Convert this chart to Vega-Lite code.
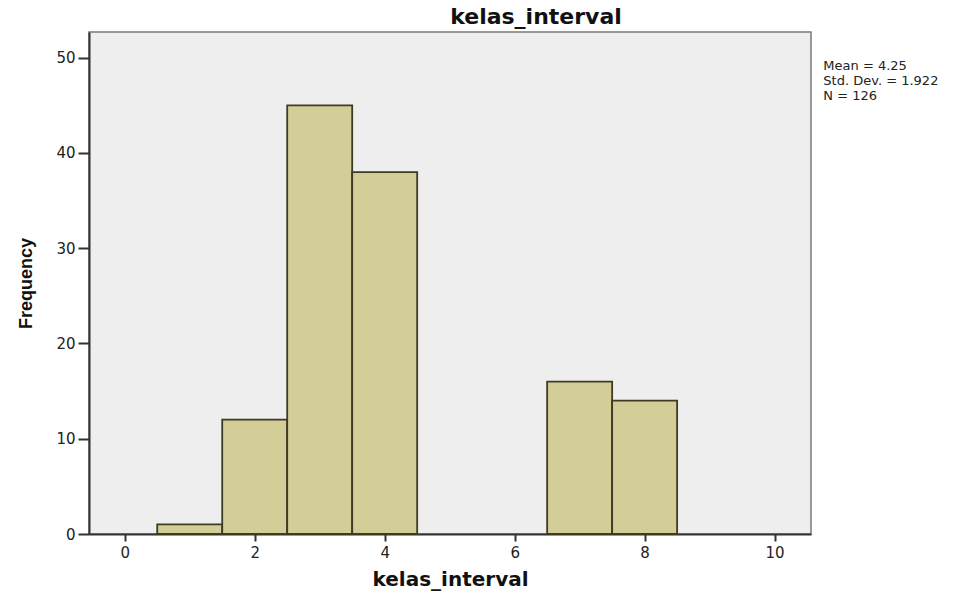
{
  "$schema": "https://vega.github.io/schema/vega-lite/v6.json",
  "width": 722,
  "height": 502,
  "autosize": {"type": "none"},
  "padding": {"left": 89, "top": 32, "right": 163, "bottom": 58},
  "background": "#ffffff",
  "title": {
    "text": "kelas_interval",
    "anchor": "middle",
    "frame": "group",
    "dx": 86,
    "offset": -14,
    "baseline": "alphabetic",
    "font": "DejaVu Sans",
    "fontSize": 22,
    "fontWeight": "bold",
    "color": "#111111"
  },
  "config": {
    "view": {"fill": "#EEEEEE", "stroke": "#7a7a7a", "strokeWidth": 1.5},
    "axis": {
      "grid": false,
      "domainColor": "#333333",
      "domainWidth": 2,
      "tickColor": "#333333",
      "tickWidth": 2,
      "labelColor": "#222222",
      "labelFont": "DejaVu Sans",
      "labelFontSize": 15,
      "titleColor": "#111111"
    }
  },
  "layer": [
    {
      "data": {
        "values": [
          {"bin_start": 0.5, "bin_end": 1.5, "frequency": 1},
          {"bin_start": 1.5, "bin_end": 2.5, "frequency": 12},
          {"bin_start": 2.5, "bin_end": 3.5, "frequency": 45},
          {"bin_start": 3.5, "bin_end": 4.5, "frequency": 38},
          {"bin_start": 6.5, "bin_end": 7.5, "frequency": 16},
          {"bin_start": 7.5, "bin_end": 8.5, "frequency": 14}
        ]
      },
      "mark": {"type": "rect", "fill": "#D3CD97", "stroke": "#3d3b22", "strokeWidth": 1.8},
      "encoding": {
        "x": {
          "field": "bin_start",
          "type": "quantitative",
          "scale": {"domain": [-0.55, 10.56], "nice": false, "zero": false},
          "axis": {
            "values": [0, 2, 4, 6, 8, 10],
            "format": "d",
            "title": "kelas_interval",
            "titleFont": "DejaVu Sans",
            "titleFontSize": 20,
            "titleFontWeight": "bold",
            "titleBaseline": "alphabetic",
            "titleY": 51,
            "tickSize": 7,
            "labelPadding": 4
          }
        },
        "x2": {"field": "bin_end"},
        "y": {
          "field": "frequency",
          "type": "quantitative",
          "scale": {"domain": [0, 52.7], "nice": false},
          "axis": {
            "values": [0, 10, 20, 30, 40, 50],
            "format": "d",
            "title": "Frequency",
            "titleFont": "Liberation Sans",
            "titleFontSize": 18,
            "titleFontWeight": "bold",
            "titleAngle": -90,
            "titleAlign": "center",
            "titleBaseline": "alphabetic",
            "titleX": -58,
            "titleY": 251,
            "tickSize": 11,
            "labelPadding": 3
          }
        },
        "y2": {"datum": 0}
      }
    },
    {
      "data": {"values": [{"stats": "Mean = 4.25\nStd. Dev. = 1.922\nN = 126"}]},
      "mark": {
        "type": "text",
        "align": "left",
        "baseline": "top",
        "lineBreak": "\n",
        "lineHeight": 15,
        "font": "DejaVu Sans",
        "fontSize": 13,
        "color": "#222222"
      },
      "encoding": {
        "text": {"field": "stats"},
        "x": {"datum": 10.75},
        "y": {"datum": 49.8}
      }
    }
  ]
}
